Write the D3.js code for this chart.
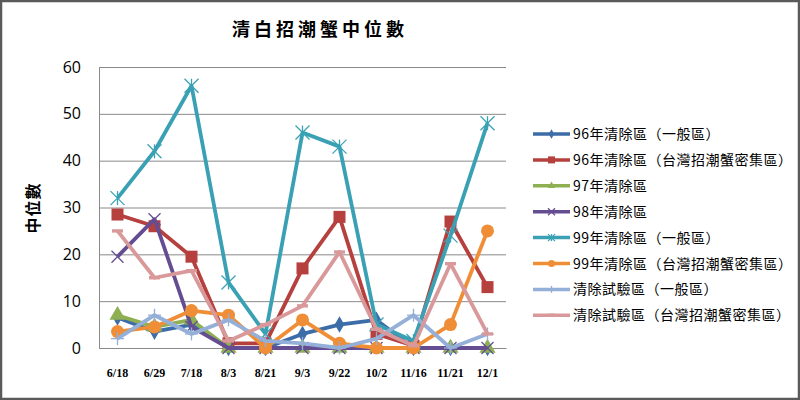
<!DOCTYPE html>
<html>
<head>
<meta charset="utf-8">
<script src="https://cdn.jsdelivr.net/npm/d3@7"></script>
<style>
  body { margin: 0; background: #fff; }
  svg { display: block; }
</style>
</head>
<body>
<div id="chart"></div>
<script>
// chart data
const dates = ["6/18", "6/29", "7/18", "8/3", "8/21", "9/3", "9/22", "10/2", "11/16", "11/21", "12/1"];
const yTicks = [0, 10, 20, 30, 40, 50, 60];
const seriesNames = [
  "96年清除區（一般區）",
  "96年清除區（台灣招潮蟹密集區）",
  "97年清除區",
  "98年清除區",
  "99年清除區（一般區）",
  "99年清除區（台灣招潮蟹密集區）",
  "清除試驗區（一般區）",
  "清除試驗區（台灣招潮蟹密集區）"
];
const s96General = [6.5, 3.5, 5, 0, 0, 3, 5, 6, 0, 0, 0];
const s96Dense = [28.5, 26, 19.5, 1, 1, 17, 28, 3, 0.5, 27, 13];
const s97 = [7, 4.5, 6, 0, 0, 0, 0, 0, 0, 0, 0];
const s98 = [19.5, 27.5, 4.5, 0, 0, 0, 0, 0, 0, 0, 0];
const s99General = [32, 42, 56, 14, 3, 46, 43, 5, 1.5, 24, 48];
const s99Dense = [3.5, 4.5, 8, 7, 0, 6, 1, 0, 0, 5, 25];
const trialGeneral = [2, 7, 3, 6, 1.5, 1, 0, 2, 7, 0, 3];
const trialDense = [25, 15, 16.5, 1.5, 5, 9, 20.5, 4, 0.5, 18, 3];

const seriesValues = [s96General, s96Dense, s97, s98, s99General, s99Dense, trialGeneral, trialDense];
const colors = ["#3d6da8", "#b5403d", "#8fb052", "#654d92", "#3aa1b4", "#ef8e36", "#95b0d8", "#d9999a"];
const markers = ["diamond", "square", "triangle", "x", "star", "circle", "plus", "dash"];

const W = 800, H = 400;
const plot = { left: 99, right: 506, top: 67, bottom: 348 };

const svg = d3.select("#chart").append("svg")
  .attr("width", W).attr("height", H);

// outer frame
svg.append("rect")
  .attr("x", 1).attr("y", 1).attr("width", W - 2).attr("height", H - 2)
  .attr("fill", "#fff").attr("stroke", "#5a5a5a").attr("stroke-width", 2.5);

const x = d3.scaleBand().domain(dates).range([plot.left, plot.right]);
const y = d3.scaleLinear().domain([0, 60]).range([plot.bottom, plot.top]);
const cx = d => x(d) + x.bandwidth() / 2;

// title
svg.append("text")
  .attr("x", 320).attr("y", 36)
  .attr("text-anchor", "middle")
  .style("font-family", "'Noto Sans CJK TC', sans-serif")
  .style("font-size", "18px").style("font-weight", "bold")
  .style("letter-spacing", "4px")
  .text("清白招潮蟹中位數");

// y axis title
svg.append("text")
  .attr("transform", "translate(39,208) rotate(-90)")
  .attr("text-anchor", "middle")
  .style("font-family", "'Noto Sans CJK TC', sans-serif")
  .style("font-size", "16px").style("font-weight", "bold")
  .style("letter-spacing", "1px")
  .text("中位數");

// gridlines
svg.append("g")
  .attr("transform", "translate(" + plot.left + ",0)")
  .call(d3.axisLeft(y).tickValues(yTicks).tickSize(-(plot.right - plot.left)).tickFormat(""))
  .call(g => g.select(".domain").remove())
  .selectAll("line").attr("stroke", "#8a8a8a");

// y axis
const yAxis = svg.append("g")
  .attr("transform", "translate(" + plot.left + ",0)")
  .call(d3.axisLeft(y).tickValues(yTicks).tickSize(0).tickPadding(18));
yAxis.select(".domain").attr("stroke", "#8a8a8a");
yAxis.selectAll("text")
  .style("font-family", "'Open Sans', sans-serif")
  .style("font-size", "16px").attr("fill", "#000");

// x axis
const xAxis = svg.append("g")
  .attr("transform", "translate(0," + plot.bottom + ")")
  .call(d3.axisBottom(x).tickSize(0).tickPadding(20));
xAxis.select(".domain").attr("stroke", "#8a8a8a");
xAxis.selectAll("text")
  .style("font-family", "'Liberation Serif', serif")
  .style("font-size", "12px").style("font-weight", "bold").attr("fill", "#000");

// marker drawing
function drawMarker(g, type, color, s) {
  const h = s / 2;
  if (type === "diamond") {
    g.append("path").attr("d", d3.symbol(d3.symbolDiamond, s * s * 0.55)()).attr("fill", color);
  } else if (type === "square") {
    g.append("rect").attr("x", -h).attr("y", -h).attr("width", s).attr("height", s).attr("fill", color);
  } else if (type === "triangle") {
    g.append("path").attr("d", d3.symbol(d3.symbolTriangle, s * s * 0.5)()).attr("fill", color);
  } else if (type === "circle") {
    g.append("circle").attr("r", h).attr("fill", color);
  } else if (type === "x" || type === "star" || type === "plus") {
    const segs = [];
    if (type !== "plus") segs.push([-h, -h, h, h], [-h, h, h, -h]);
    if (type === "star") segs.push([0, -h, 0, h]);
    if (type === "plus") segs.push([0, -h, 0, h], [-h, 0, h, 0]);
    segs.forEach(p => g.append("line")
      .attr("x1", p[0]).attr("y1", p[1]).attr("x2", p[2]).attr("y2", p[3])
      .attr("stroke", color).attr("stroke-width", 1.3));
  } else if (type === "dash") {
    g.append("rect").attr("x", -h).attr("y", -1.7).attr("width", s).attr("height", 3.4).attr("fill", color);
  }
}

const markerSize = [12, 12, 15, 12, 14, 13, 13, 11];

const line = d3.line().x((d, i) => cx(dates[i])).y(d => y(d));

seriesValues.forEach((vals, si) => {
  const g = svg.append("g").attr("class", "series");
  g.append("path")
    .attr("d", line(vals))
    .attr("fill", "none")
    .attr("stroke", colors[si])
    .attr("stroke-width", 3.8)
    .attr("stroke-linejoin", "round");
  vals.forEach((v, i) => {
    const m = g.append("g").attr("transform", "translate(" + cx(dates[i]) + "," + y(v) + ")");
    drawMarker(m, markers[si], colors[si], markerSize[si]);
  });
});

// legend
const legend = svg.append("g");
seriesNames.forEach((name, i) => {
  const ly = 134 + i * 25.9;
  const row = legend.append("g");
  row.append("line")
    .attr("x1", 533).attr("x2", 570).attr("y1", ly).attr("y2", ly)
    .attr("stroke", colors[i]).attr("stroke-width", 3.5);
  const m = row.append("g").attr("transform", "translate(551.5," + ly + ")");
  drawMarker(m, markers[i], colors[i], 7);
  row.append("text")
    .attr("x", 573).attr("y", ly + 5)
    .style("font-family", "'Noto Sans CJK TC', sans-serif")
    .style("font-size", "14px")
    .style("letter-spacing", "0.5px")
    .text(name);
});
</script>
</body>
</html>
